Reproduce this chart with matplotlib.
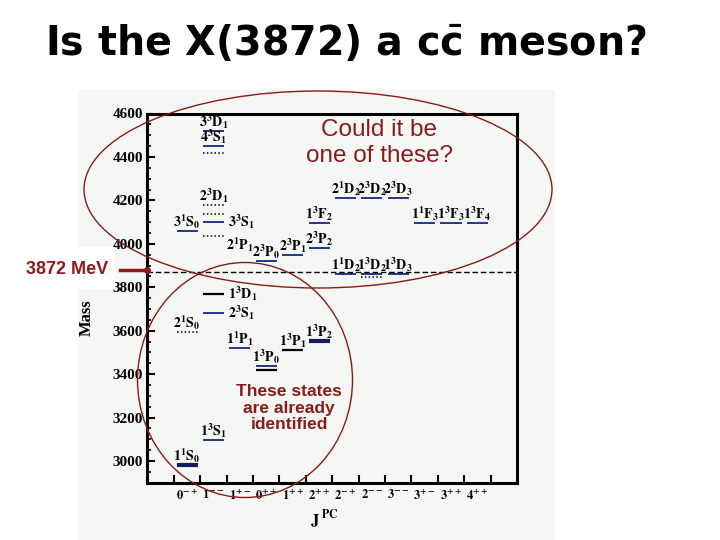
import matplotlib.pyplot as plt
from matplotlib.patches import Ellipse, Rectangle
from matplotlib.ticker import FixedLocator, MultipleLocator

# J^PC columns along the x axis
jpc_labels = ['0^{-+}', '1^{--}', '1^{+-}', '0^{++}', '1^{++}', '2^{++}',
              '2^{-+}', '2^{--}', '3^{--}', '3^{+-}', '3^{++}', '4^{++}']

# level lines: column, mass (MeV), style
level_col = [0, 0, 0, 1, 1, 1, 1, 1, 1, 1, 1, 1, 1, 2, 3, 3, 3,
             4, 4, 5, 5, 5, 6, 6, 7, 7, 7, 8, 8, 9, 10, 11]
level_mass = [2982, 3594, 4059, 3097, 3681, 3769, 4036, 4100, 4137, 4179,
              4418, 4450, 4519, 3520, 3419, 3437, 3921, 3511, 3948, 3552,
              3981, 4096, 3861, 4211, 3845, 3861, 4211, 3861, 4211, 4096,
              4096, 4096]
level_style = ['thick', 'dot', 'blue', 'blue', 'blue', 'black', 'dot', 'blue',
               'dot', 'dot', 'dot', 'blue', 'blue', 'blue', 'black', 'blue',
               'blue', 'black', 'blue', 'thick', 'blue', 'blue', 'blue', 'blue',
               'dot', 'blue', 'blue', 'blue', 'blue', 'blue', 'blue', 'blue']

# state labels: text, column, mass, side
label_text = ['1^1S_0', '2^1S_0', '3^1S_0', '1^3S_1', '2^3S_1', '1^3D_1',
              '3^3S_1', '2^3D_1', '4^3S_1', '3^3D_1', '1^1P_1', '2^1P_1',
              '1^3P_0', '2^3P_0', '1^3P_1', '2^3P_1', '1^3P_2', '2^3P_2',
              '1^3F_2', '1^1D_2', '2^1D_2', '1^3D_2', '2^3D_2', '1^3D_3',
              '2^3D_3', '1^1F_3', '1^3F_3', '1^3F_4']
label_col = [0, 0, 0, 1, 1, 1, 1, 1, 1, 1, 2, 2, 3, 3, 4, 4, 5, 5, 5,
             6, 6, 7, 7, 8, 8, 9, 10, 11]
label_mass = [2982, 3594, 4059, 3097, 3681, 3769, 4100, 4179, 4450, 4519,
              3520, 3955, 3437, 3921, 3511, 3948, 3552, 3981, 4096, 3861,
              4211, 3861, 4211, 3861, 4211, 4096, 4096, 4096]
label_side = ['above', 'above', 'above', 'above', 'right', 'right', 'right',
              'above', 'above', 'above', 'above', 'above', 'above', 'above',
              'above', 'above', 'above', 'above', 'above', 'above', 'above',
              'above', 'above', 'above', 'above', 'above', 'above', 'above']

x3872 = 3872

styles = {
    'thick': dict(color='#141c5c', lw=3.0, ls='-'),
    'blue': dict(color='#25338c', lw=1.4, ls='-'),
    'black': dict(color='black', lw=1.6, ls='-'),
    'dot': dict(color='black', lw=1.1, ls=(0, (1, 1.5))),
}
red = '#8b1a1a'
bg = '#f4f7f3'
half = 0.4

fig = plt.figure(figsize=(7.2, 5.4), dpi=100)
fig.patch.set_facecolor('white')
fig.add_artist(Rectangle((78 / 720, 0), (555 - 78) / 720, 450 / 540,
                         transform=fig.transFigure, facecolor=bg,
                         edgecolor='none', zorder=-1))

ax = fig.add_axes([147 / 720, 1 - 482.7 / 540, 370 / 720, (482.7 - 113.5) / 540])
ax.set_facecolor(bg)
ax.set_xlim(-1.52, 12.5)
ax.set_ylim(2900, 4600)

for c, m, s in zip(level_col, level_mass, level_style):
    ax.hlines(m, c - half, c + half, **styles[s])

for t, c, m, side in zip(label_text, label_col, label_mass, label_side):
    txt = r'$\mathbf{' + t + '}$'
    if side == 'above':
        ax.annotate(txt, (c, m), xytext=(0, 0), textcoords='offset points',
                    ha='center', va='bottom', fontsize=10,
                    math_fontfamily='stix')
    else:
        ax.annotate(txt, (c + half, m), xytext=(3, 0), textcoords='offset points',
                    ha='left', va='center', fontsize=10,
                    math_fontfamily='stix')

ax.axhline(x3872, color='black', lw=1, ls=(0, (4, 2)))

for sp in ax.spines.values():
    sp.set_linewidth(2.2)

ax.set_xticks(range(len(jpc_labels)))
ax.set_xticklabels([r'$\mathbf{' + j + '}$' for j in jpc_labels],
                   fontsize=9, math_fontfamily='stix')
ax.xaxis.set_minor_locator(FixedLocator([k - 0.5 for k in range(13)]))
ax.tick_params(axis='x', which='major', length=0, pad=4)
ax.tick_params(axis='x', which='minor', direction='in', length=6, width=1.5)

ax.yaxis.set_major_locator(MultipleLocator(200))
ax.yaxis.set_minor_locator(MultipleLocator(50))
ax.tick_params(axis='y', which='major', direction='in', length=6, width=1.5, pad=3)
ax.tick_params(axis='y', which='minor', direction='in', length=3, width=1.2)
for lab in ax.get_yticklabels():
    lab.set_fontfamily('Liberation Serif')
    lab.set_fontweight('bold')
    lab.set_fontsize(11)

ax.set_xlabel(r'$\mathbf{J}^{\ \mathbf{PC}}$', fontsize=12, math_fontfamily='stix',
              va='center')
ax.xaxis.set_label_coords(0.48, -0.101)
ax.set_ylabel('Mass', fontfamily='Liberation Serif', fontweight='bold',
              fontsize=12)
ax.yaxis.set_label_coords(-0.14, 0.446)

# overlay in figure pixels for the slide annotations
ov = fig.add_axes([0, 0, 1, 1], zorder=5)
ov.set_xlim(0, 720)
ov.set_ylim(540, 0)
ov.axis('off')

ov.add_patch(Rectangle((0, 247), 115, 42, facecolor='white', edgecolor='none'))
ov.plot([120, 147], [270, 270], color=red, lw=2.5)
ov.plot([147], [270], 'o', color=red, ms=4)
ov.text(67, 270, '3872 MeV', ha='center', va='center', fontsize=13,
        fontweight='bold', family='Liberation Sans', color=red)

ov.add_patch(Ellipse((318, 189.5), 468, 197, fill=False, edgecolor=red, lw=1))
ov.add_patch(Ellipse((245, 380), 215, 235, fill=False, edgecolor=red, lw=1))

ov.text(379, 143, 'Could it be\none of these?', ha='center', va='center',
        fontsize=17.5, family='Liberation Sans', color=red, linespacing=1.25)
ov.text(289, 408, 'These states\nare already\nidentified', ha='center',
        va='center', fontsize=12.5, fontweight='bold', family='Liberation Sans',
        color=red, linespacing=1.15)

ov.text(346, 44, r'Is the X(3872) a c$\bar{\mathbf{c}}$ meson?', ha='center',
        va='center', fontsize=28.5, fontweight='bold', family='DejaVu Sans',
        math_fontfamily='dejavusans')

fig.savefig('out.png', dpi=100)
